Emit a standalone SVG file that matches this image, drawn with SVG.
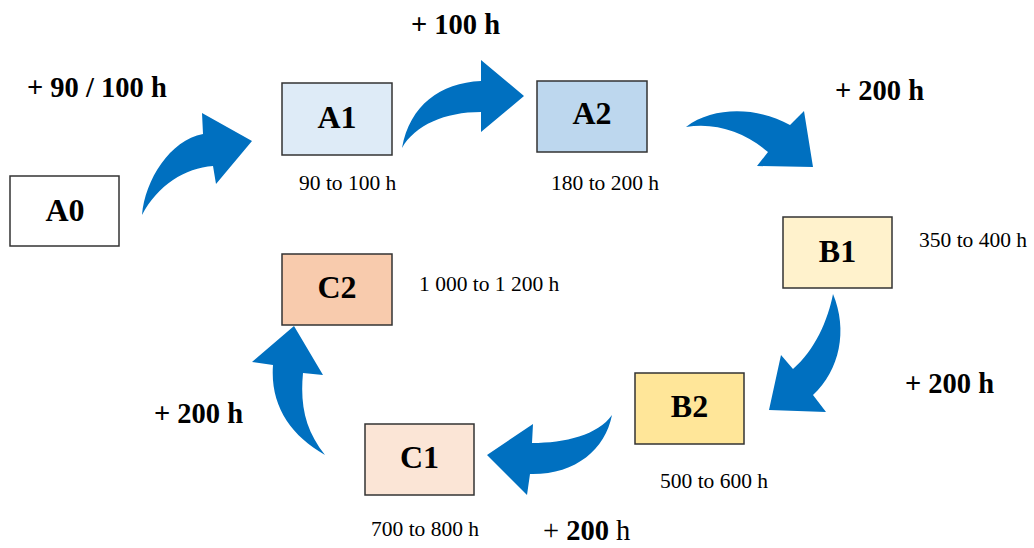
<svg xmlns="http://www.w3.org/2000/svg" width="1034" height="548" viewBox="0 0 1034 548">
<style>
.box{stroke:#333;stroke-width:1.5}
.lbl{font-family:"Liberation Serif",serif;font-weight:bold;font-size:32px;text-anchor:middle;fill:#000}
.sub{font-family:"Liberation Serif",serif;font-size:21.5px;fill:#000}
.inc{font-family:"Liberation Serif",serif;font-weight:bold;font-size:28.5px;fill:#000}
.arr{fill:#0070C0}
</style>
<rect width="1034" height="548" fill="#fff"/>
<g id="connectors">
<path class="arr" d="M142,215 C145,180 170,140 203,134 L202,113 L252,141 L216,184 L213,166 C185,168 158,185 142,215 Z"/>
<path class="arr" d="M402,148 C410,105 440,83 481,81 L481,60 L524,96 L481,132 L481,112 C445,112 415,125 402,148 Z"/>
<path class="arr" d="M686,127 C715,105 760,108 790,125 L804,111 L813,167 L757,166 L768,152 C745,132 715,122 686,127 Z"/>
<path class="arr" d="M833,294 C848,330 840,370 813,395 L826,412 L769,410 L781,355 L793,369 C815,350 828,320 833,294 Z"/>
<path class="arr" d="M612,415 C605,450 575,475 530,474 L527,495 L487,455 L533,424 L532,443 C565,443 598,435 612,415 Z"/>
<path class="arr" d="M325,455 C290,435 270,405 273,365 L252,362 L294,326 L323,375 L303,373 C300,405 305,430 325,455 Z"/>
</g>
<g id="A0"><rect class="box" x="10" y="176" width="109" height="70" fill="#FFFFFF"/><text class="lbl" x="65" y="221">A0</text></g>
<g id="A1"><rect class="box" x="282" y="83" width="110" height="72" fill="#DEEBF7"/><text class="lbl" x="337" y="128">A1</text><text class="sub" x="299" y="190">90 to 100 h</text></g>
<g id="A2"><rect class="box" x="537" y="81" width="110" height="71" fill="#BDD7EE"/><text class="lbl" x="592" y="124">A2</text><text class="sub" x="551" y="190">180 to 200 h</text></g>
<g id="B1"><rect class="box" x="783" y="217" width="109" height="71" fill="#FFF2CC"/><text class="lbl" x="837.5" y="262">B1</text><text class="sub" x="919" y="247">350 to 400 h</text></g>
<g id="B2"><rect class="box" x="635" y="373" width="109" height="71" fill="#FFE699"/><text class="lbl" x="689.5" y="417">B2</text><text class="sub" x="660" y="488">500 to 600 h</text></g>
<g id="C2"><rect class="box" x="282" y="254" width="110" height="71" fill="#F8CBAD"/><text class="lbl" x="337" y="298">C2</text><text class="sub" x="419" y="291">1 000 to 1 200 h</text></g>
<g id="C1"><rect class="box" x="365" y="424" width="109" height="71" fill="#FBE5D6"/><text class="lbl" x="419.5" y="468">C1</text><text class="sub" x="371" y="536">700 to 800 h</text></g>
<g id="increments">
<text class="inc" x="27" y="97">+ 90 / 100 h</text>
<text class="inc" x="411" y="34">+ 100 h</text>
<text class="inc" x="835" y="100">+ 200 h</text>
<text class="inc" x="905" y="393">+ 200 h</text>
<text class="inc" x="154" y="423">+ 200 h</text>
<text class="inc" x="543" y="540"><tspan font-weight="normal">+ </tspan>200<tspan font-weight="normal"> h</tspan></text>
</g>
</svg>
